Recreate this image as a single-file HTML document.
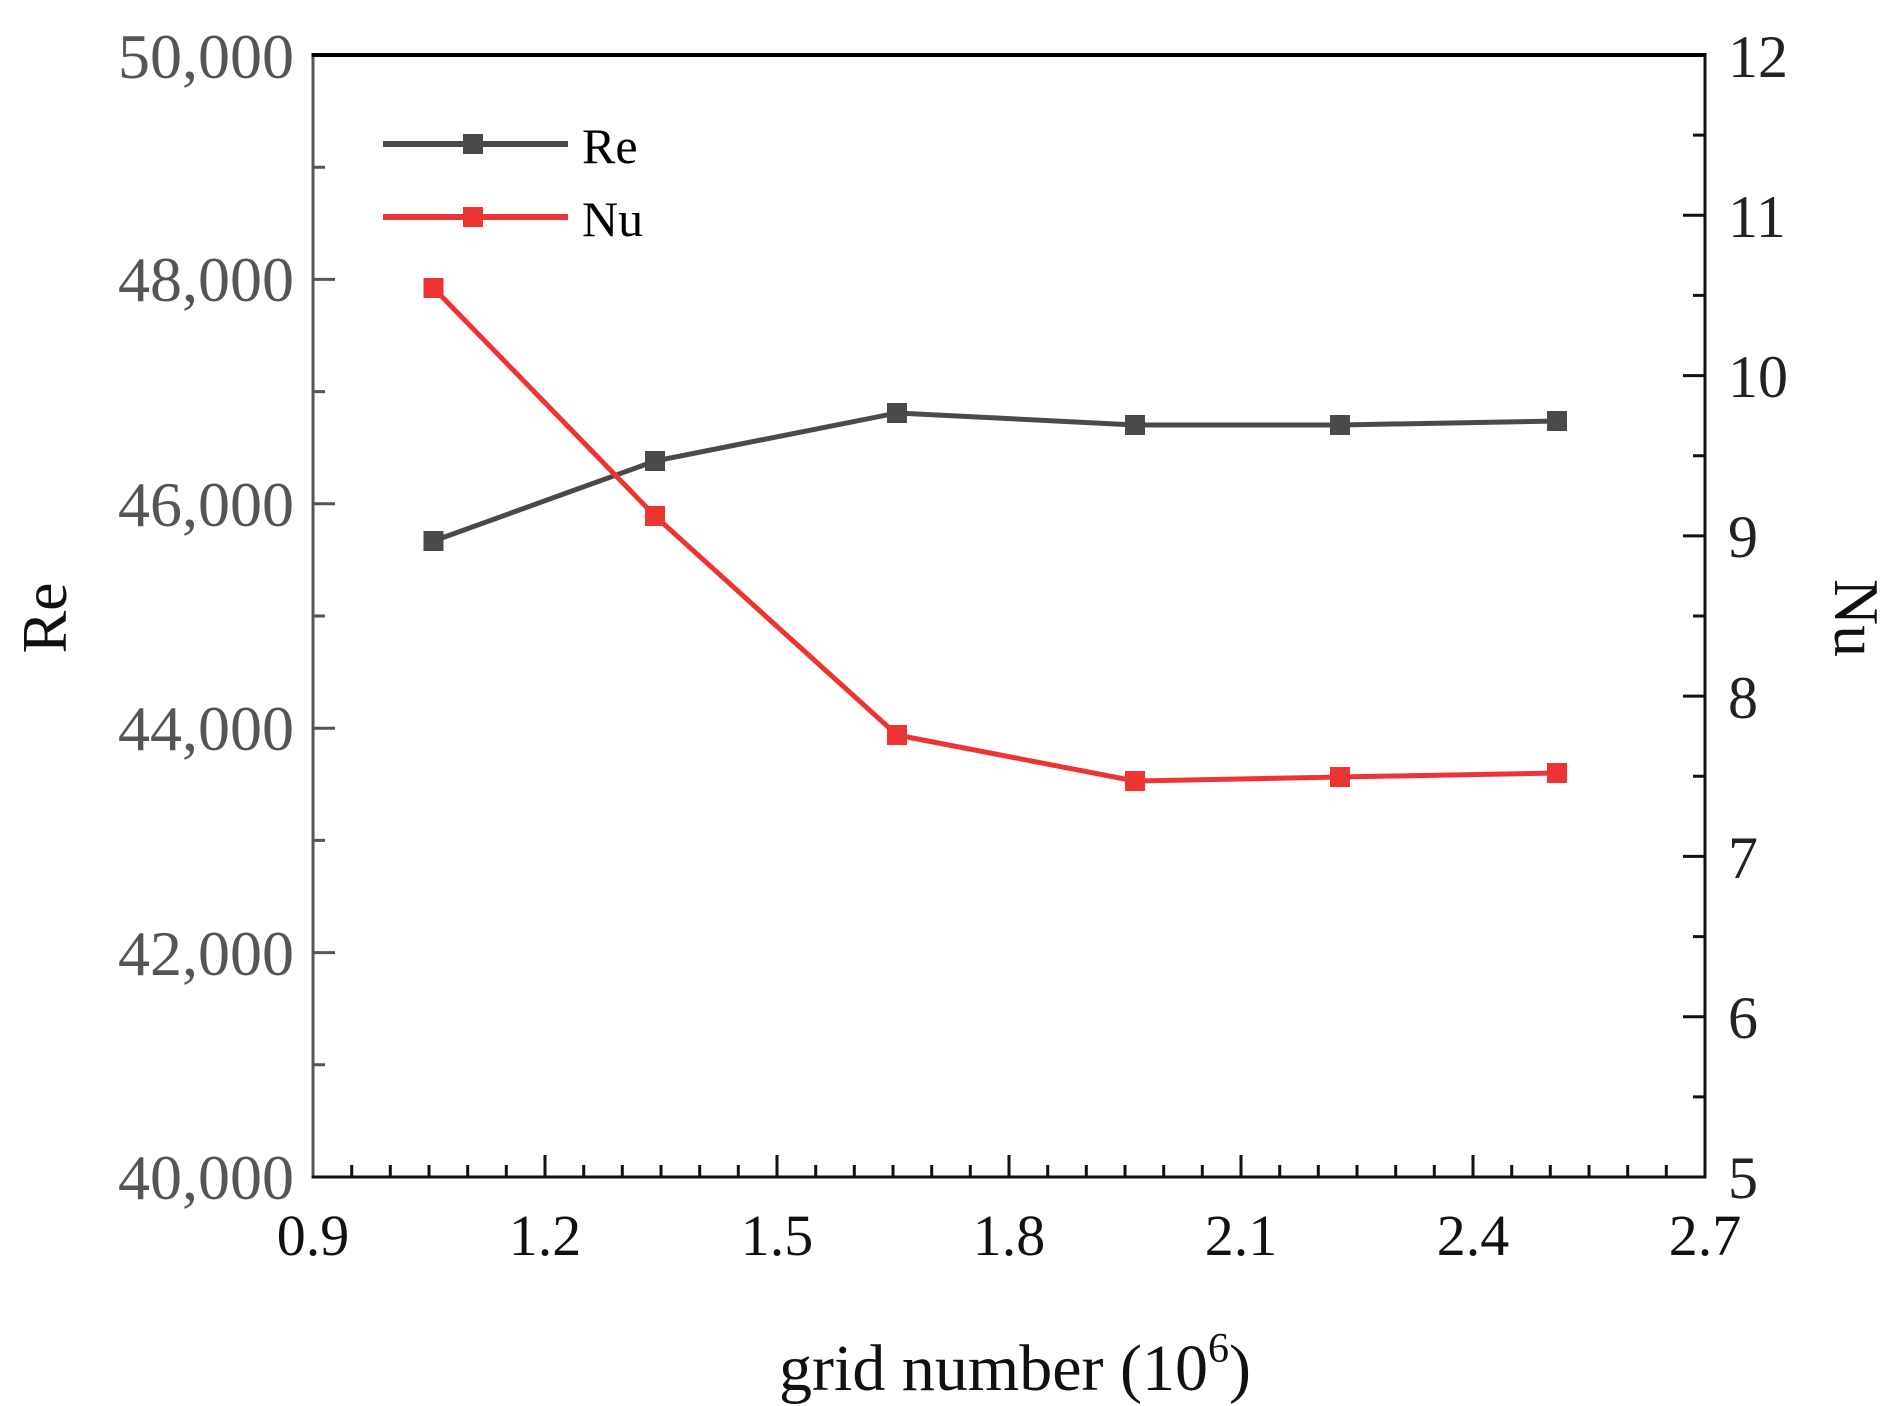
<!DOCTYPE html>
<html><head><meta charset="utf-8"><style>
html,body{margin:0;padding:0;background:#fff;}
svg{display:block;}
text{font-family:"Liberation Serif",serif;}
</style></head><body>
<svg width="1890" height="1406" viewBox="0 0 1890 1406" xmlns="http://www.w3.org/2000/svg">
<rect width="1890" height="1406" fill="#fff"/>
<g stroke="#111" stroke-width="3">
<path d="
M313 1177v-22 M351.7 1177v-12 M390.3 1177v-12 M429 1177v-12 M467.7 1177v-12 M506.3 1177v-12
M545 1177v-22 M583.7 1177v-12 M622.3 1177v-12 M661 1177v-12 M699.7 1177v-12 M738.3 1177v-12
M777 1177v-22 M815.7 1177v-12 M854.3 1177v-12 M893 1177v-12 M931.7 1177v-12 M970.3 1177v-12
M1009 1177v-22 M1047.7 1177v-12 M1086.3 1177v-12 M1125 1177v-12 M1163.7 1177v-12 M1202.3 1177v-12
M1241 1177v-22 M1279.7 1177v-12 M1318.3 1177v-12 M1357 1177v-12 M1395.7 1177v-12 M1434.3 1177v-12
M1473 1177v-22 M1511.7 1177v-12 M1550.3 1177v-12 M1589 1177v-12 M1627.7 1177v-12 M1666.3 1177v-12"/>
<path d="
M1705 1096.9h-12 M1705 1016.7h-22 M1705 936.6h-12 M1705 856.4h-22 M1705 776.3h-12 M1705 696.1h-22
M1705 616h-12 M1705 535.9h-22 M1705 455.7h-12 M1705 375.6h-22 M1705 295.4h-12 M1705 215.3h-22 M1705 135.1h-12"/>
</g>
<g stroke="#555" stroke-width="3">
<path d="M313 1064.8h12 M313 952.6h22 M313 840.4h12 M313 728.2h22 M313 616h12 M313 503.8h22 M313 391.6h12 M313 279.4h22 M313 167.2h12"/>
</g>
<line x1="313" y1="55" x2="313" y2="1177" stroke="#555" stroke-width="3"/>
<line x1="311.5" y1="55" x2="1706.5" y2="55" stroke="#000" stroke-width="4"/>
<line x1="1705" y1="55" x2="1705" y2="1178.5" stroke="#111" stroke-width="3"/>
<line x1="311.5" y1="1177" x2="1706.5" y2="1177" stroke="#111" stroke-width="3"/>
<polyline points="433.5,541 655,461 897,413 1135,425 1340,425 1557,421" fill="none" stroke="#4a4a4a" stroke-width="5"/>
<g fill="#4a4a4a">
<rect x="423.5" y="531" width="20" height="20"/><rect x="645" y="451" width="20" height="20"/><rect x="887" y="403" width="20" height="20"/><rect x="1125" y="415" width="20" height="20"/><rect x="1330" y="415" width="20" height="20"/><rect x="1547" y="411" width="20" height="20"/>
</g>
<polyline points="433.5,288 655,516 897,735 1135,781 1340,777 1557,773" fill="none" stroke="#ee3333" stroke-width="5"/>
<g fill="#ee3333">
<rect x="423.5" y="278" width="20" height="20"/><rect x="645" y="506" width="20" height="20"/><rect x="887" y="725" width="20" height="20"/><rect x="1125" y="771" width="20" height="20"/><rect x="1330" y="767" width="20" height="20"/><rect x="1547" y="763" width="20" height="20"/>
</g>
<line x1="383" y1="144" x2="568" y2="144" stroke="#4a4a4a" stroke-width="6"/>
<rect x="463" y="134" width="20" height="20" fill="#4a4a4a"/>
<line x1="383" y1="217" x2="568" y2="217" stroke="#ee3333" stroke-width="6"/>
<rect x="463" y="207" width="20" height="20" fill="#ee3333"/>
<text x="582" y="163" font-size="50" fill="#000">Re</text>
<text x="582" y="236" font-size="50" fill="#000">Nu</text>
<g font-size="64" fill="#555" text-anchor="end">
<text x="294" y="78">50,000</text>
<text x="294" y="301">48,000</text>
<text x="294" y="526">46,000</text>
<text x="294" y="750">44,000</text>
<text x="294" y="975">42,000</text>
<text x="294" y="1199">40,000</text>
</g>
<g font-size="60" fill="#222" text-anchor="start">
<text x="1728" y="77">12</text>
<text x="1728" y="237">11</text>
<text x="1728" y="397">10</text>
<text x="1728" y="557">9</text>
<text x="1728" y="718">8</text>
<text x="1728" y="878">7</text>
<text x="1728" y="1038">6</text>
<text x="1728" y="1198">5</text>
</g>
<g font-size="58" fill="#111" text-anchor="middle">
<text x="313" y="1255">0.9</text>
<text x="545" y="1255">1.2</text>
<text x="777" y="1255">1.5</text>
<text x="1009" y="1255">1.8</text>
<text x="1241" y="1255">2.1</text>
<text x="1473" y="1255">2.4</text>
<text x="1705" y="1255">2.7</text>
</g>
<text x="1015" y="1390" font-size="66" fill="#111" text-anchor="middle">grid number (10<tspan font-size="42" dy="-28">6</tspan><tspan dy="28">)</tspan></text>
<text transform="translate(66,618) rotate(-90)" font-size="64" fill="#111" text-anchor="middle">Re</text>
<text transform="translate(1835,618) rotate(90)" font-size="64" fill="#111" text-anchor="middle">Nu</text>
</svg>
</body></html>
